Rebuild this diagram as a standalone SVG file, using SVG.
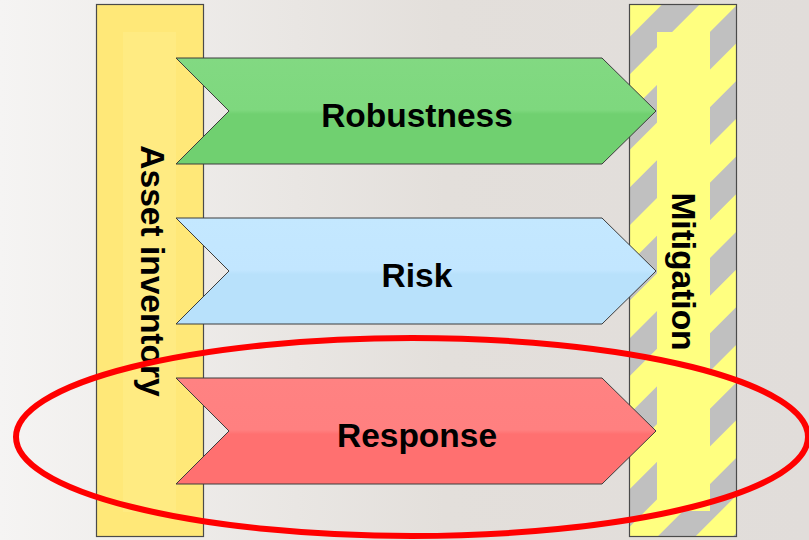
<svg xmlns="http://www.w3.org/2000/svg" width="809" height="540" viewBox="0 0 809 540">
  <defs>
    <linearGradient id="bg" x1="0" y1="0" x2="1" y2="0">
      <stop offset="0" stop-color="#F5F4F3"/>
      <stop offset="0.55" stop-color="#E3DFDB"/>
      <stop offset="1" stop-color="#E1DDDA"/>
    </linearGradient>
    <linearGradient id="gGreen" x1="0" y1="0" x2="0" y2="1">
      <stop offset="0" stop-color="#82D982"/>
      <stop offset="0.49" stop-color="#7ED87E"/>
      <stop offset="0.53" stop-color="#70D070"/>
      <stop offset="1" stop-color="#70D070"/>
    </linearGradient>
    <linearGradient id="gBlue" x1="0" y1="0" x2="0" y2="1">
      <stop offset="0" stop-color="#C4E8FF"/>
      <stop offset="0.49" stop-color="#C2E6FF"/>
      <stop offset="0.53" stop-color="#B8E1FB"/>
      <stop offset="1" stop-color="#B8E1FB"/>
    </linearGradient>
    <linearGradient id="gRed" x1="0" y1="0" x2="0" y2="1">
      <stop offset="0" stop-color="#FF8282"/>
      <stop offset="0.49" stop-color="#FF8080"/>
      <stop offset="0.53" stop-color="#FF7070"/>
      <stop offset="1" stop-color="#FF7070"/>
    </linearGradient>
    <pattern id="hatch" patternUnits="userSpaceOnUse" x="0" y="5" width="53.3" height="53.3" patternTransform="rotate(45 683 271)">
      <rect x="0" y="0" width="53.3" height="53.3" fill="#FFFF80"/>
      <rect x="0" y="0" width="26.65" height="53.3" fill="#C0C0C0"/>
    </pattern>
  </defs>
  <style>
    .frame { stroke: #4A4A4A; stroke-width: 1.2; }
    .arrow { stroke: #3C3C3C; stroke-width: 1; stroke-linejoin: miter; }
    .label { font-family: "Liberation Sans", Arial, sans-serif; font-weight: bold; font-size: 33.5px; fill: #000; text-anchor: middle; }
  </style>

  <rect x="0" y="0" width="809" height="540" fill="url(#bg)"/>

  <!-- left column -->
  <g id="asset-inventory">
    <rect class="frame" x="96.5" y="4.5" width="107" height="532" fill="#FFE878"/>
    <rect x="123" y="32" width="53" height="480" fill="#FFEB82"/>
    <text class="label" transform="translate(141 271) rotate(90)">Asset inventory</text>
  </g>

  <!-- right column: striped border around a solid core -->
  <g id="mitigation">
    <rect x="629.5" y="4.5" width="107" height="532" fill="url(#hatch)"/>
    <rect x="657" y="32" width="53" height="479" fill="#FFFF80"/>
    <rect class="frame" x="629.5" y="4.5" width="107" height="532" fill="none"/>
    <text class="label" transform="translate(672 271.5) rotate(90)">Mitigation</text>
  </g>

  <g id="robustness">
    <polygon class="arrow" points="176,58 602,58 656,111 602,164 176,164 229,111" fill="url(#gGreen)"/>
    <text class="label" x="417" y="127">Robustness</text>
  </g>

  <g id="risk">
    <polygon class="arrow" points="176,218 602,218 656,271 602,324 176,324 229,271" fill="url(#gBlue)"/>
    <text class="label" x="417" y="287">Risk</text>
  </g>

  <g id="response">
    <polygon class="arrow" points="176,378 602,378 656,431 602,484 176,484 229,431" fill="url(#gRed)"/>
    <text class="label" x="417" y="447">Response</text>
  </g>

  <!-- highlight ring -->
  <g id="connectors">
    <ellipse cx="412" cy="437" rx="396" ry="99" fill="none" stroke="#FF0000" stroke-width="6"/>
  </g>
</svg>
